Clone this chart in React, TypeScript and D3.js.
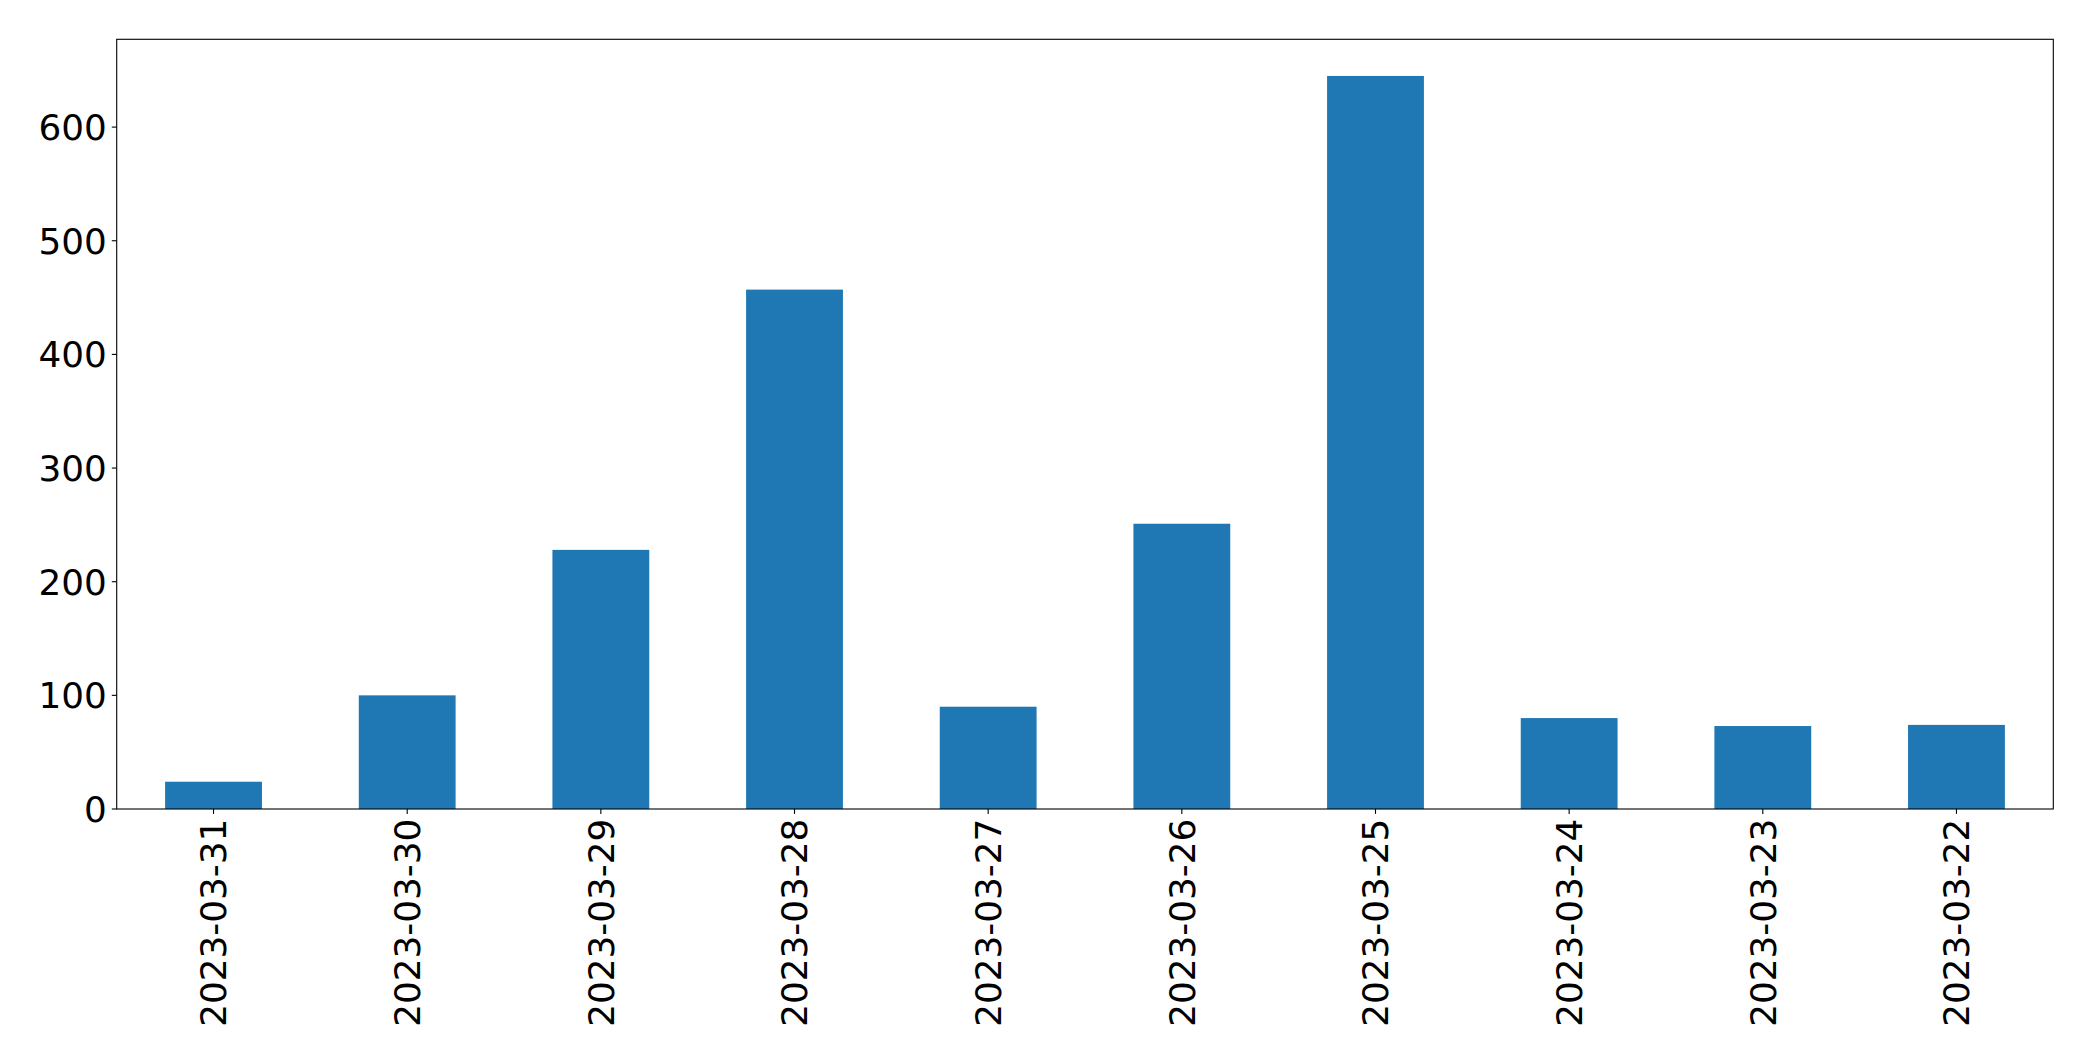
import { useEffect, useRef } from "react";
import * as d3 from "d3";

const dates = [
  "2023-03-31",
  "2023-03-30",
  "2023-03-29",
  "2023-03-28",
  "2023-03-27",
  "2023-03-26",
  "2023-03-25",
  "2023-03-24",
  "2023-03-23",
  "2023-03-22",
];
const counts = [24, 100, 228, 457, 90, 251, 645, 80, 73, 74];
const yTicks = [0, 100, 200, 300, 400, 500, 600];

const WIDTH = 2093;
const HEIGHT = 1061;
const FONT = "'DejaVu Sans', sans-serif";

export default function App() {
  const svgRef = useRef<SVGSVGElement | null>(null);

  useEffect(() => {
    if (!svgRef.current) return;
    const svg = d3.select(svgRef.current);
    svg.selectAll("*").remove();

    const left = 116.7;
    const right = 2053.3;
    const top = 39.3;
    const bottom = 809;

    // matplotlib style: bars at integer positions, xlim -0.5..n-0.5, width 0.5
    const x = d3
      .scaleLinear()
      .domain([-0.5, dates.length - 0.5])
      .range([left, right]);
    const maxVal = d3.max(counts) ?? 1;
    const y = d3
      .scaleLinear()
      .domain([0, maxVal * 1.05])
      .range([bottom, top]);

    const g = svg.append("g");

    g.selectAll(".bar")
      .data(counts)
      .enter()
      .append("rect")
      .attr("class", "bar")
      .attr("x", (_d, i) => x(i - 0.25))
      .attr("width", x(0.25) - x(-0.25))
      .attr("y", (d) => y(d))
      .attr("height", (d) => bottom - y(d))
      .attr("fill", "#1f77b4");

    // frame
    g.append("rect")
      .attr("x", left)
      .attr("y", top)
      .attr("width", right - left)
      .attr("height", bottom - top)
      .attr("fill", "none")
      .attr("stroke", "#000")
      .attr("stroke-width", 1.1);

    const tickLen = 4.9;
    const pad = 4.9;
    const fontSize = 35.8;

    // y ticks
    const yt = g.selectAll(".ytick").data(yTicks).enter().append("g");
    yt.append("line")
      .attr("x1", left - tickLen)
      .attr("x2", left)
      .attr("y1", (d) => y(d))
      .attr("y2", (d) => y(d))
      .attr("stroke", "#000")
      .attr("stroke-width", 1.1);
    yt.append("text")
      .attr("x", left - tickLen - pad)
      .attr("y", (d) => y(d))
      .attr("dy", "0.36em")
      .attr("text-anchor", "end")
      .style("font-family", FONT)
      .style("font-size", `${fontSize}px`)
      .attr("fill", "#000")
      .text((d) => String(d));

    // x ticks
    const xt = g.selectAll(".xtick").data(dates).enter().append("g");
    xt.append("line")
      .attr("x1", (_d, i) => x(i))
      .attr("x2", (_d, i) => x(i))
      .attr("y1", bottom)
      .attr("y2", bottom + tickLen)
      .attr("stroke", "#000")
      .attr("stroke-width", 1.1);
    xt.append("text")
      .attr(
        "transform",
        (_d, i) => `translate(${x(i)},${bottom + tickLen + pad}) rotate(-90)`
      )
      .attr("dy", "0.36em")
      .attr("text-anchor", "end")
      .style("font-family", FONT)
      .style("font-size", `${fontSize}px`)
      .attr("fill", "#000")
      .text((d) => d);
  }, []);

  return (
    <svg
      ref={svgRef}
      width={WIDTH}
      height={HEIGHT}
      style={{ position: "absolute", left: 0, top: 0, background: "#fff" }}
    />
  );
}
